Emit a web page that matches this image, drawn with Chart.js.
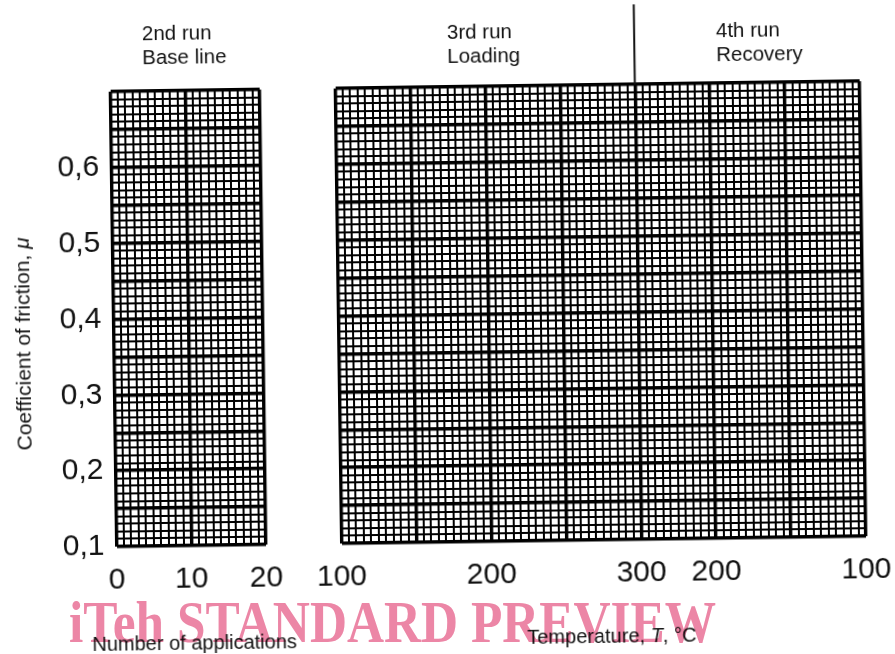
<!DOCTYPE html>
<html>
<head>
<meta charset="utf-8">
<script src="https://cdn.jsdelivr.net/npm/chart.js@4/dist/chart.umd.min.js"></script>
<style>
  html, body { margin: 0; padding: 0; background: #fff; width: 895px; height: 654px; overflow: hidden; }
  #sheet { position: absolute; left: 0; top: 0; width: 895px; height: 654px;
           transform: rotate(-0.8deg); transform-origin: 447.5px 327px; }
  canvas { position: absolute; left: 0; top: 0; }
  .txt { position: absolute; font-family: 'Liberation Sans', Arial, sans-serif; color: #111; white-space: nowrap; }
  .head { font-size: 20.5px; line-height: 24px; }
  .axt { font-size: 20px; line-height: 20px; }
  .ytitle { left: 22.5px; top: 338px; font-size: 21px; transform: translate(-50%, -50%) rotate(-90deg); }
  #mark { position: absolute; left: 69px; top: 592px; font-family: 'Liberation Serif', 'Times New Roman', serif;
          font-weight: bold; font-size: 60px; line-height: 60px; color: rgb(236, 134, 166);
          transform: scaleX(0.855); transform-origin: 0 0; white-space: nowrap; mix-blend-mode: multiply; }
</style>
</head>
<body>
<div id="sheet">
  <canvas id="baseChart" width="895" height="654"></canvas>
  <canvas id="tempChart" width="895" height="654"></canvas>
  <div class="txt head" style="left:146px; top:17px;">2nd run<br>Base line</div>
  <div class="txt head" style="left:451px; top:19.5px;">3rd run<br>Loading</div>
  <div class="txt head" style="left:720px; top:21.5px;">4th run<br>Recovery</div>
  <div class="txt axt" style="left:88px; top:629px;">Number of applications</div>
  <div class="txt axt" style="left:523px; top:627.5px;">Temperature, <i>T</i>, °C</div>
  <div class="txt ytitle">Coefficient of friction, <i>μ</i></div>
</div>
<div id="mark">iTeh STANDARD PREVIEW</div>

<script>
// Coefficient of friction axis (shared by both grids)
const frictionRange = [0.1, 0.7];
const frictionMinor = 0.01;
const frictionMajor = 0.05;
const frictionTicks = [0.1, 0.2, 0.3, 0.4, 0.5, 0.6];

// 2nd run: number of applications
const applicationRange = [0, 20];
const applicationMinor = 1;
const applicationMajor = 10;
const applicationTicks = [0, 10, 20];

// 3rd run (loading) and 4th run (recovery): temperature, counted in chart divisions
const tempRange = [0, 70];
const tempMinor = 1;
const tempMajor = 10;
const tempDivisions = [0, 20, 40, 50, 70];
const tempLabels = ['100', '200', '300', '200', '100'];
const loadingEndIndex = 2; // 300 °C, where loading turns into recovery

const near = (v, step) => Math.abs(v / step - Math.round(v / step)) < 1e-6;
const gridWidth = major => ctx => (ctx.tick && near(ctx.tick.value, major)) ? 3.4 : 2.0;
const tickFont = { family: "'Liberation Sans', Arial, sans-serif", size: 30 };
const fixedWidth = w => scale => { scale.width = w; };
const fixedHeight = h => scale => { scale.height = h; scale.paddingLeft = 0; scale.paddingRight = 0; };
const commaDecimal = v => v.toFixed(1).replace('.', ',');

const common = {
  responsive: false,
  animation: false,
  events: [],
  plugins: { legend: { display: false }, tooltip: { enabled: false }, title: { display: false } }
};

new Chart(document.getElementById('baseChart'), {
  type: 'scatter',
  data: { datasets: [{ data: [] }] },
  options: {
    ...common,
    layout: { padding: { left: 43.5, right: 632, top: 87, bottom: 52 } },
    scales: {
      x: {
        type: 'linear', min: applicationRange[0], max: applicationRange[1],
        border: { display: false },
        grid: { color: '#000', lineWidth: gridWidth(applicationMajor), drawTicks: false },
        ticks: {
          stepSize: applicationMinor, autoSkip: false, maxRotation: 0, padding: 16,
          color: '#111', font: tickFont,
          callback: v => applicationTicks.includes(v) ? String(v) : ''
        },
        afterFit: fixedHeight(60)
      },
      y: {
        type: 'linear', min: frictionRange[0], max: frictionRange[1],
        border: { display: false },
        grid: { color: '#000', lineWidth: gridWidth(frictionMajor), drawTicks: false },
        ticks: {
          stepSize: frictionMinor, autoSkip: false, padding: 12,
          color: '#111', font: tickFont,
          callback: v => frictionTicks.some(t => Math.abs(t - v) < 1e-6) ? commaDecimal(v) : ''
        },
        afterFit: fixedWidth(70)
      }
    }
  }
});

// vertical rule separating the loading and recovery runs, rising above the grid
const runDivider = {
  id: 'runDivider',
  afterDraw(chart) {
    const x = chart.scales.x.getPixelForValue(tempDivisions[loadingEndIndex]);
    const ctx = chart.ctx;
    ctx.save();
    ctx.strokeStyle = '#111';
    ctx.lineWidth = 2;
    ctx.beginPath();
    ctx.moveTo(x, chart.chartArea.top);
    ctx.lineTo(x, 7);
    ctx.stroke();
    ctx.restore();
  }
};

new Chart(document.getElementById('tempChart'), {
  type: 'scatter',
  data: { datasets: [{ data: [] }] },
  options: {
    ...common,
    layout: { padding: { left: 338.5, right: 32, top: 87, bottom: 52 } },
    scales: {
      x: {
        type: 'linear', min: tempRange[0], max: tempRange[1],
        border: { display: false },
        grid: { color: '#000', lineWidth: gridWidth(tempMajor), drawTicks: false },
        ticks: {
          stepSize: tempMinor, autoSkip: false, maxRotation: 0, padding: 16,
          color: '#111', font: tickFont,
          callback: v => { const i = tempDivisions.indexOf(v); return i >= 0 ? tempLabels[i] : ''; }
        },
        afterFit: fixedHeight(60)
      },
      y: {
        type: 'linear', min: frictionRange[0], max: frictionRange[1],
        border: { display: false },
        grid: { color: '#000', lineWidth: gridWidth(frictionMajor), drawTicks: false },
        ticks: { stepSize: frictionMinor, autoSkip: false, display: false },
        afterFit: fixedWidth(0)
      }
    }
  },
  plugins: [runDivider]
});
</script>
</body>
</html>
